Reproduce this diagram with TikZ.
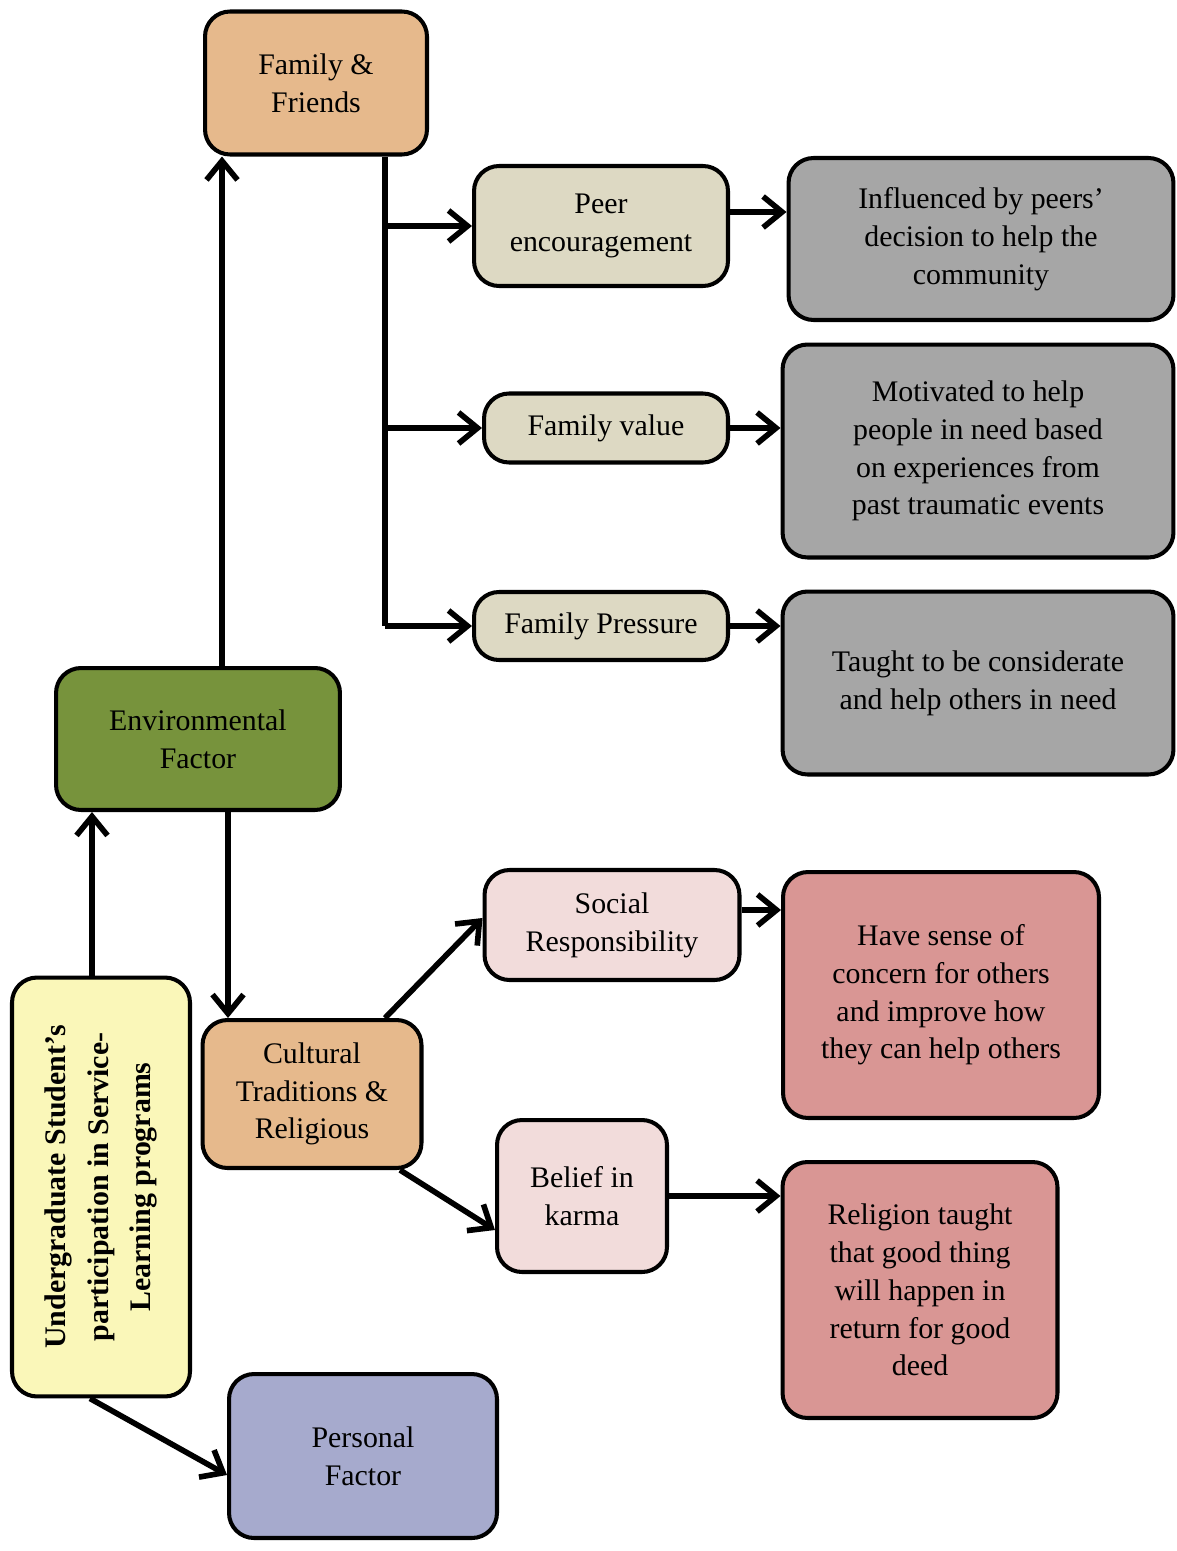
\documentclass[tikz,border=0pt]{standalone}
\usepackage{fontspec}
\setmainfont{Liberation Serif}
\usepackage{tikz}
\usetikzlibrary{arrows.meta,positioning,calc}
\definecolor{FamTan}{RGB}{230,185,140}
\definecolor{SubBeige}{RGB}{221,217,195}
\definecolor{OutGray}{RGB}{166,166,166}
\definecolor{EnvGreen}{RGB}{119,147,60}
\definecolor{SocPink}{RGB}{242,220,219}
\definecolor{OutRose}{RGB}{217,150,148}
\definecolor{UgYellow}{RGB}{250,247,185}
\definecolor{PersBlue}{RGB}{166,170,205}

\begin{document}
\begin{tikzpicture}[x=0.02cm,y=-0.02cm,
  factor/.style={draw=black,line width=2.3pt,rounded corners=0.5cm,align=center,
                 font=\fontsize{17}{21.5}\selectfont,inner sep=2pt},
  link/.style={line width=3.2pt},
  flow/.style={link,-{Straight Barb[length=0.38cm,width=0.62cm]}},
]
\useasboundingbox (0,0) rectangle (1176,1551);

% environmental branch
\node[factor,fill=FamTan,minimum width=4.44cm,minimum height=2.86cm] (ff) at (316,83) {Family \&\\Friends};
\node[factor,fill=SubBeige,minimum width=5.08cm,minimum height=2.4cm] (peer) at (601,226) {Peer\\encouragement};
\node[factor,fill=OutGray,minimum width=7.7cm,minimum height=3.24cm] (infl) at (981,239) {Influenced by peers'\\decision to help the\\community};
\node[factor,fill=SubBeige,minimum width=4.88cm,minimum height=1.38cm] (value) at (606,428) {Family value};
\node[factor,fill=OutGray,minimum width=7.82cm,minimum height=4.26cm] (motiv) at (978,451) {Motivated to help\\people in need based\\on experiences from\\past traumatic events};
\node[factor,fill=SubBeige,minimum width=5.08cm,minimum height=1.36cm] (pressure) at (601,626) {Family Pressure};
\node[factor,fill=OutGray,minimum width=7.82cm,minimum height=3.66cm] (taught) at (978,683) {Taught to be considerate\\and help others in need};
\node[factor,fill=EnvGreen,minimum width=5.68cm,minimum height=2.84cm] (env) at (198,739) {Environmental\\Factor};

% cultural branch
\node[factor,fill=SocPink,minimum width=5.1cm,minimum height=2.2cm] (social) at (612,925) {Social\\Responsibility};
\node[factor,fill=OutRose,minimum width=6.32cm,minimum height=4.92cm] (have) at (941,995) {Have sense of\\concern for others\\and improve how\\they can help others};
\node[factor,fill=UgYellow,rotate=90,minimum width=8.38cm,minimum height=3.56cm,font=\fontsize{17}{24}\selectfont\bfseries] (ug) at (101,1187) {Undergraduate Student's\\participation in Service-\\Learning programs};
\node[factor,fill=FamTan,minimum width=4.38cm,minimum height=2.96cm] (cult) at (312,1094) {Cultural\\Traditions \&\\Religious};
\node[factor,fill=SocPink,minimum width=3.4cm,minimum height=3.04cm] (belief) at (582,1196) {Belief in\\karma};
\node[factor,fill=OutRose,minimum width=5.5cm,minimum height=5.12cm] (relig) at (920,1290) {Religion taught\\that good thing\\will happen in\\return for good\\deed};
\node[factor,fill=PersBlue,minimum width=5.36cm,minimum height=3.28cm] (pers) at (363,1456) {Personal\\Factor};

% connectors
\coordinate (fork) at (385,626);
\draw[flow] ($(env.north)+(24,0)$) coordinate (e0) -- (e0 |- ff.south);
\draw[link] (ff.south -| fork) -- (fork);
\draw[flow] (fork |- peer.west) -- (peer.west);
\draw[flow] (fork |- value.west) -- (value.west);
\draw[flow] (fork) -- (pressure.west);
\draw[flow] ($(peer.east)+(0,-14)$) coordinate (p1) -- (p1 -| infl.west);
\draw[flow] (value.east) -- (value.east -| motiv.west);
\draw[flow] (pressure.east) -- (pressure.east -| taught.west);
\draw[flow] ($(ug.east)+(-9,0)$) coordinate (u1) -- (u1 |- env.south);
\draw[flow] ($(env.south)+(30,0)$) coordinate (e1) -- (e1 |- cult.north);
\draw[flow] ($(cult.north)+(73,0)$) -- ($(social.west)+(0,-7)$);
\draw[flow] ($(cult.south)+(88,0)$) -- ($(belief.west)+(0,34)$);
\draw[flow] ($(social.east)+(0,-15)$) coordinate (s1) -- (s1 -| have.west);
\draw[flow] (belief.east) -- (belief.east -| relig.west);
\draw[flow] ($(ug.west)+(-11,0)$) -- ($(pers.west)+(0,19)$);
\end{tikzpicture}
\end{document}
